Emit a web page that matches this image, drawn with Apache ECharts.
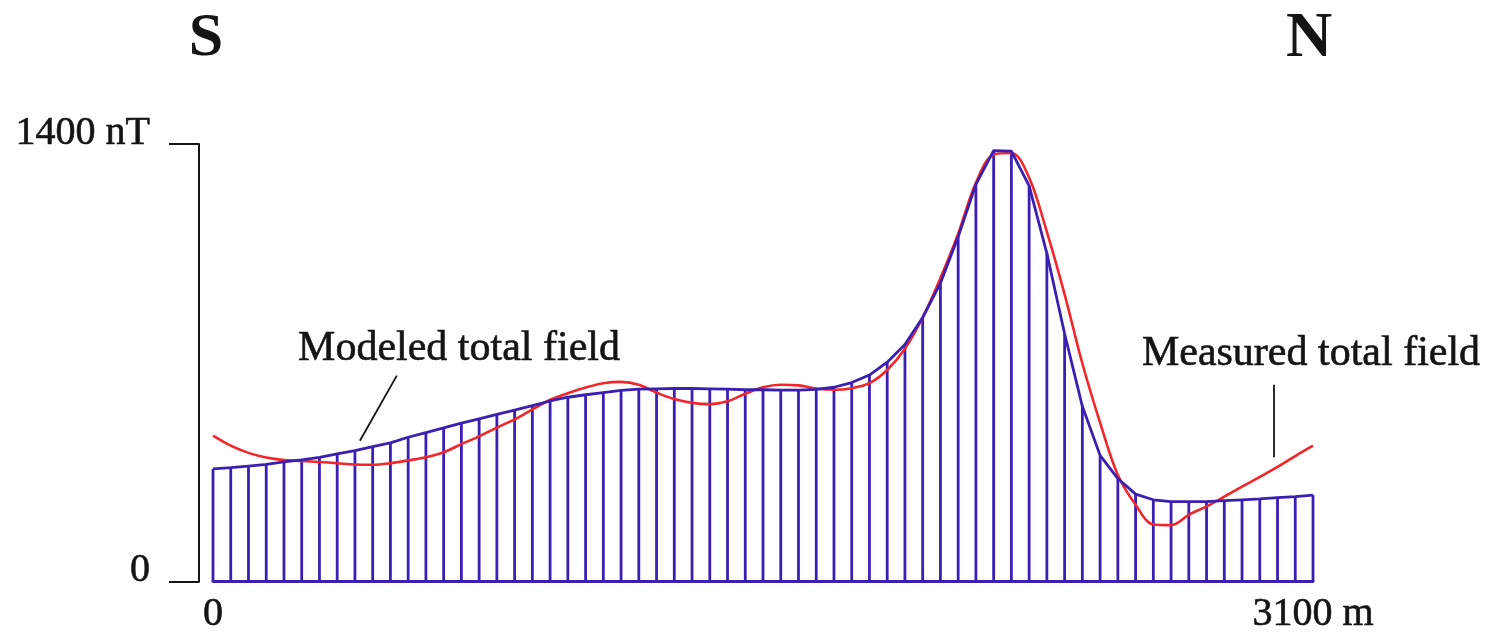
<!DOCTYPE html>
<html><head><meta charset="utf-8">
<script src="https://cdn.jsdelivr.net/npm/echarts/dist/echarts.min.js"></script>
<style>html,body{margin:0;padding:0;background:#fff}#c{width:1487px;height:635px}</style>
</head><body><div id="c"></div>
<script>
// distance along profile (m), every 50 m
const distances = [0,50,100,150,200,250,300,350,400,450,500,550,600,650,700,750,800,850,900,950,
  1000,1050,1100,1150,1200,1250,1300,1350,1400,1450,1500,1550,1600,1650,1700,1750,1800,1850,1900,1950,
  2000,2050,2100,2150,2200,2250,2300,2350,2400,2450,2500,2550,2600,2650,2700,2750,2800,2850,2900,2950,
  3000,3050,3100];
// modeled total field (nT)
const modeled = [361,365,370,375,383,390,398,409,419,432,444,462,477,492,507,521,535,549,563,578,
  590,598,605,612,616,617,618,618,617,616,614,614,613,613,615,622,637,661,702,759,
  845,955,1103,1271,1379,1377,1266,1050,793,561,404,330,280,262,256,256,256,259,262,265,
  269,272,277];
// measured total field (nT)
const measured = [467,435,412,397,389,386,383,379,375,374,379,388,398,414,440,465,493,519,551,582,
  603,621,635,639,630,605,584,572,568,577,601,622,630,628,618,614,619,635,677,745,
  845,971,1113,1276,1366,1371,1292,1119,919,698,509,341,246,183,181,214,241,272,304,335,
  367,402,435];
const yTickLabels = {0: '0', 1400: '1400 nT'};
const xTickLabels = {0: '0', 3100: '3100 m'};
const directions = ['S', 'N'];
const annotations = ['Modeled total field', 'Measured total field'];

const BLUE = '#3a20b2';
const RED = '#f2262a';
const INK = '#141414';
const FONT = '"Liberation Serif", "Times New Roman", serif';

const chart = echarts.init(document.getElementById('c'), null, {renderer: 'canvas'});
const modeledPts = distances.map((d, i) => [d, modeled[i]]);
const measuredPts = distances.map((d, i) => [d, measured[i]]);

const labelText = {fontFamily: FONT, fontSize: 40, color: INK, textBorderColor: INK, textBorderWidth: 0.6};

chart.setOption({
  animation: false,
  backgroundColor: '#ffffff',
  grid: {left: 213, right: 174, top: 144, bottom: 47, containLabel: false},
  xAxis: {
    type: 'value', min: 0, max: 3100, interval: 3100,
    axisLine: {show: true, onZero: true, lineStyle: {color: BLUE, width: 2.8}},
    axisTick: {show: false}, splitLine: {show: false},
    axisLabel: Object.assign({formatter: v => xTickLabels[v] || '', margin: 13,
      showMinLabel: true, showMaxLabel: true}, labelText)
  },
  yAxis: {
    type: 'value', min: 0, max: 1400, interval: 1400, offset: 14,
    axisLine: {show: true, onZero: false, lineStyle: {color: INK, width: 2}},
    axisTick: {show: true, length: 30, lineStyle: {color: INK, width: 2}},
    splitLine: {show: false},
    axisLabel: Object.assign({formatter: v => yTickLabels[v] || '', margin: 49,
      verticalAlign: 'bottom', lineHeight: 22}, labelText)
  },
  series: [
    {type: 'bar', data: modeledPts, barWidth: 2.8, itemStyle: {color: BLUE}, z: 2, silent: true},
    {type: 'line', data: measuredPts, smooth: 0.35, symbol: 'none', lineStyle: {color: RED, width: 2.6}, z: 3, silent: true},
    {type: 'line', data: modeledPts, symbol: 'none', lineStyle: {color: BLUE, width: 2.8}, z: 4, silent: true,
      markLine: {symbol: ['none', 'none'], silent: true, label: {show: false},
        lineStyle: {color: INK, width: 1.8, type: 'solid'},
        data: [
          [{coord: [414, 451]}, {coord: [518, 659]}],
          [{coord: [2990, 398]}, {coord: [2990, 630]}]
        ]}
    }
  ],
  graphic: [
    {type: 'text', x: 206, y: 39, style: {text: directions[0], font: 'bold 62px ' + FONT, fill: INK, align: 'center', verticalAlign: 'middle'}},
    {type: 'text', x: 1309, y: 39, style: {text: directions[1], font: 'bold 64px ' + FONT, fill: INK, align: 'center', verticalAlign: 'middle'}},
    {type: 'text', x: 459, y: 349, style: {text: annotations[0], font: '42px ' + FONT, fill: INK, stroke: INK, lineWidth: 0.6, align: 'center', verticalAlign: 'middle'}},
    {type: 'text', x: 1311, y: 354, style: {text: annotations[1], font: '42px ' + FONT, fill: INK, stroke: INK, lineWidth: 0.6, align: 'center', verticalAlign: 'middle'}}
  ]
});
</script></body></html>
